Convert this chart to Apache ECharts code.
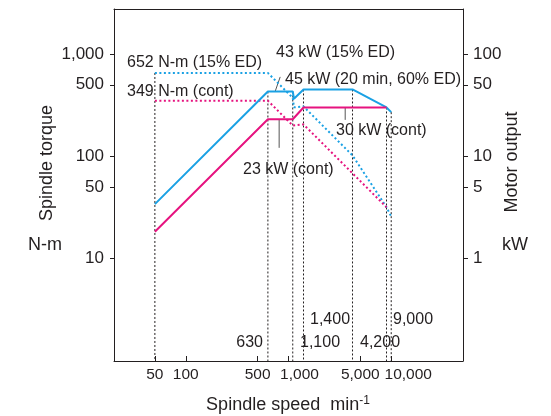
<!DOCTYPE html>
<html><head><meta charset="utf-8">
<script src="https://cdn.jsdelivr.net/npm/echarts@6/dist/echarts.min.js"></script>
<style>html,body{margin:0;padding:0;background:#fff}#c{width:551px;height:416px}</style>
</head><body><div id="c"></div>
<script>
// ---- data ----
const speedTicks = [50, 100, 500, 1000, 5000, 10000];
const torqueTicks = [10, 50, 100, 500, 1000];
const powerTicks = [1, 5, 10, 50, 100];

// torque curves (N-m, left axis) [speed, torque]
const blueTorque = [[50, 652], [630, 652], [1100, 373], [1130, 301], [1400, 307], [4200, 102], [9000, 31.8], [10000, 25.8]];
const pinkTorque = [[50, 349], [630, 349], [1100, 200], [1400, 205], [9000, 31.8]];
// power curves (kW, right axis) [speed, power]
const bluePower = [[50, 3.41], [630, 43], [1100, 43], [1130, 36.5], [1400, 45], [4200, 45], [9000, 30], [10000, 27]];
const pinkPower = [[50, 1.83], [630, 23], [1100, 23], [1400, 30], [9000, 30]];

// vertical guide lines
const guideSpeeds = [630, 1100, 1400, 4200, 9000, 10000];
const guideTopsKW = [43, 43, 45, 45, 30, 27];
const startGuide = [50, 652];

// leader lines (kW axis)
const leader43 = [[741, 43], [830, 59.7]];
const leader23 = [[811, 23], [811, 12.1]];
const leader30 = [[3565, 30], [3565, 22.7]];

// ---- chart ----
const BLUE = '#1aa1e4', PINK = '#e6137f', INK = '#231f20';
const FONT = 'Liberation Sans, Arial, Helvetica, sans-serif';
const fmt = v => String(Math.round(v)).replace(/\B(?=(\d{3})+(?!\d))/g, ',');
const chart = echarts.init(document.getElementById('c'), null, {renderer: 'canvas'});

const series = [];
guideSpeeds.forEach((s, i) => {
  series.push({type: 'line', yAxisIndex: 1, symbol: 'none', silent: true,
    data: [[s, guideTopsKW[i]], [s, 0.1]],
    lineStyle: {color: INK, width: 1, type: [2, 2]}, z: 1});
});
series.push({type: 'line', yAxisIndex: 0, symbol: 'none', silent: true,
  data: [startGuide, [startGuide[0], 1]], lineStyle: {color: INK, width: 1, type: [2, 2]}, z: 1});
[leader43, leader23, leader30].forEach(d => series.push({type: 'line', yAxisIndex: 1, symbol: 'none', silent: true,
  data: d, lineStyle: {color: '#555', width: 1}, z: 1}));
series.push({type: 'line', yAxisIndex: 0, symbol: 'none', data: blueTorque,
  lineStyle: {color: BLUE, width: 2, type: [2, 2.5]}, z: 3});
series.push({type: 'line', yAxisIndex: 0, symbol: 'none', data: pinkTorque,
  lineStyle: {color: PINK, width: 2, type: [2, 2.5]}, z: 3});
series.push({type: 'line', yAxisIndex: 1, symbol: 'none', data: bluePower,
  lineStyle: {color: BLUE, width: 2}, z: 4});
series.push({type: 'line', yAxisIndex: 1, symbol: 'none', data: pinkPower,
  lineStyle: {color: PINK, width: 2}, z: 4});

const axisCommon = {
  axisLine: {show: true, lineStyle: {color: INK, width: 1}},
  splitLine: {show: false}, minorTick: {show: false}, minorSplitLine: {show: false}
};
const txt = (text, x, y, align, size, extra) => Object.assign({
  type: 'text', x: x, y: y,
  style: {text: text, fill: INK, font: (size || 16) + 'px ' + FONT, align: align || 'left', verticalAlign: 'middle'}
}, extra || {});

// x labels: the large values sit slightly right of their ticks in the original
const xLabel = v => {
  const r = Math.round(v);
  if (r === 1000) return '{a|' + fmt(r) + '}';
  if (r === 10000) return '{b|' + fmt(r) + '}';
  return fmt(r);
};

chart.setOption({
  animation: false,
  grid: {left: 114, right: 88, top: 9, bottom: 55},
  xAxis: [
    Object.assign({type: 'log', min: 20, max: 50000, position: 'bottom',
      axisTick: {show: true, inside: true, length: 5, lineStyle: {color: INK}, customValues: speedTicks},
      axisLabel: {customValues: speedTicks, formatter: xLabel, margin: 6, fontSize: 15.5, color: INK, fontFamily: FONT,
        hideOverlap: false, showMinLabel: true, showMaxLabel: true,
        rich: {a: {fontSize: 15.5, fontFamily: FONT, color: INK, padding: [0, 0, 0, 22]},
               b: {fontSize: 15.5, fontFamily: FONT, color: INK, padding: [0, 0, 0, 34]}}}
    }, axisCommon),
    Object.assign({type: 'log', min: 20, max: 50000, position: 'top',
      axisTick: {show: false}, axisLabel: {show: false}}, axisCommon)
  ],
  yAxis: [
    Object.assign({type: 'log', min: 1, max: 2750, position: 'left',
      axisTick: {show: true, inside: false, length: 4, lineStyle: {color: INK}, customValues: torqueTicks},
      axisLabel: {customValues: torqueTicks, formatter: v => fmt(v), margin: 10, fontSize: 17, color: INK, fontFamily: FONT}
    }, axisCommon),
    Object.assign({type: 'log', min: 0.1, max: 275, position: 'right',
      axisTick: {show: true, inside: false, length: 5, lineStyle: {color: INK}, customValues: powerTicks},
      axisLabel: {customValues: powerTicks, formatter: v => fmt(v), margin: 10, fontSize: 17, color: INK, fontFamily: FONT}
    }, axisCommon)
  ],
  series: series,
  graphic: [
    txt('652 N-m (15% ED)', 127, 63),
    txt('349 N-m (cont)', 127, 92),
    txt('43 kW (15% ED)', 276, 53),
    txt('45 kW (20 min, 60% ED)', 285, 80),
    txt('30 kW (cont)', 336, 131),
    txt('23 kW (cont)', 243, 170),
    txt('630', 263, 343, 'right'),
    {type: 'text', x: 299, y: 343, style: {text: '1,100', fill: INK, font: '16px ' + FONT, align: 'left',
      verticalAlign: 'middle', backgroundColor: '#fff', padding: [0, 0, 0, 1]}},
    txt('1,400', 310, 320),
    txt('4,200', 360, 343),
    txt('9,000', 393, 320),
    txt('Spindle torque', 47, 163, 'center', 18, {rotation: Math.PI / 2}),
    txt('N-m', 45, 245, 'center', 18),
    txt('Motor output', 512, 162, 'center', 18, {rotation: Math.PI / 2}),
    txt('kW', 515, 245, 'center', 18),
    {type: 'text', x: 288, y: 405, style: {
      text: 'Spindle speed  min{sup|-1}', fill: INK, font: '18px ' + FONT, align: 'center', verticalAlign: 'middle',
      rich: {sup: {fontSize: 12, fontFamily: FONT, fill: INK, verticalAlign: 'top', padding: [0, 0, 9, 0]}}
    }}
  ]
});
</script></body></html>
